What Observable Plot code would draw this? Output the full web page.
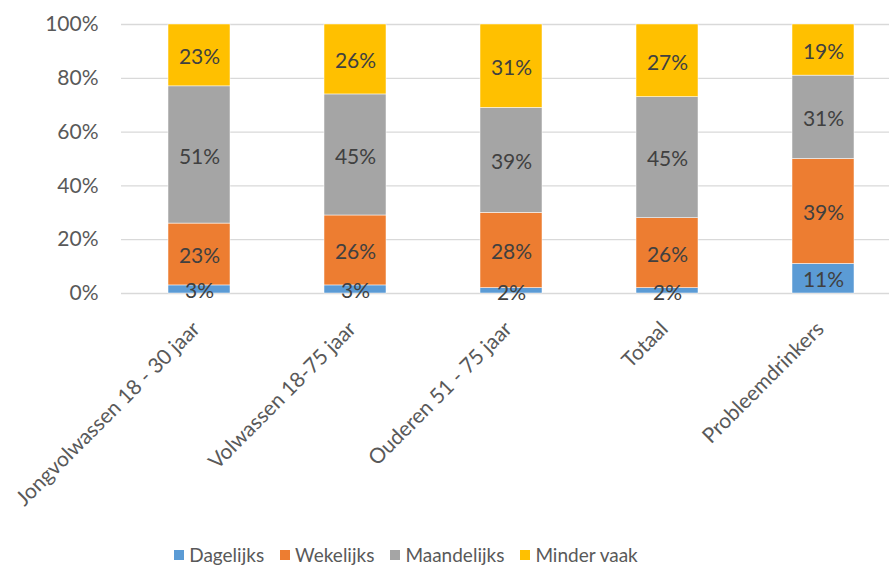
<!DOCTYPE html>
<html><head><meta charset="utf-8">
<script src="https://cdn.jsdelivr.net/npm/d3@7"></script>
<script src="https://cdn.jsdelivr.net/npm/@observablehq/plot@0.6"></script>
<style>
html,body{margin:0;padding:0;background:#fff;}
body{width:889px;height:567px;overflow:hidden;font-family:Lato,"Open Sans",sans-serif;}
#legend{display:flex;justify-content:center;align-items:center;width:889px;box-sizing:border-box;padding-right:77px;padding-top:12px;height:37px;gap:16px;font-size:19px;color:#595959;}
#legend .item{display:flex;align-items:center;}
#legend .sw{width:10px;height:10px;margin-right:5px;}
</style></head><body>
<div id="chart"></div>
<div id="legend"></div>
<script>
const categories = ["Jongvolwassen 18 - 30 jaar","Volwassen 18-75 jaar","Ouderen 51 - 75 jaar","Totaal","Probleemdrinkers"];
const series = ["Dagelijks","Wekelijks","Maandelijks","Minder vaak"];
const dagelijks = [3,3,2,2,11];
const wekelijks = [23,26,28,26,39];
const maandelijks = [51,45,39,45,31];
const minderVaak = [23,26,31,27,19];
const colors = ["#5B9BD5","#ED7D31","#A5A5A5","#FFC000"];
const yTicks = [0,20,40,60,80,100];

const seriesValues = [dagelijks, wekelijks, maandelijks, minderVaak];
const data = [];
categories.forEach((c, i) => series.forEach((s, j) => data.push({cat: c, series: s, value: seriesValues[j][i]})));

const chart = Plot.plot({
  width: 889,
  height: 530,
  marginTop: 24,
  marginBottom: 237,
  marginLeft: 121,
  marginRight: 0,
  style: {fontFamily: "Lato, 'Open Sans', sans-serif", background: "#fff"},
  x: {domain: categories, range: [121, 902], paddingInner: 0.6, paddingOuter: 0.3, label: null},
  y: {domain: [0, 100], label: null},
  color: {domain: series, range: colors},
  marks: [
    Plot.ruleY(yTicks, {stroke: "#D9D9D9", strokeWidth: 1.3}),
    Plot.barY(data, Plot.stackY({x: "cat", y: "value", fill: "series", z: "series", stroke: "#fff", strokeWidth: 0.5})),
    Plot.text(data, Plot.stackY({x: "cat", y: "value", z: "series", text: d => d.value + "%", fill: "#404040", fontSize: 21, dy: 2})),
    Plot.axisY({ticks: yTicks, tickFormat: d => d + "%", tickSize: 0, tickPadding: 23, fontSize: 21, color: "#595959", label: null}),
    Plot.axisX({tickRotate: -45, tickSize: 0, tickPadding: 32, dx: -3, fontSize: 21, color: "#595959", label: null})
  ]
});
document.getElementById("chart").appendChild(chart);

const legend = document.getElementById("legend");
series.forEach((s, j) => {
  const it = document.createElement("div"); it.className = "item";
  const sw = document.createElement("div"); sw.className = "sw"; sw.style.background = colors[j];
  const t = document.createElement("span"); t.textContent = s;
  it.appendChild(sw); it.appendChild(t); legend.appendChild(it);
});
</script>
</body></html>
